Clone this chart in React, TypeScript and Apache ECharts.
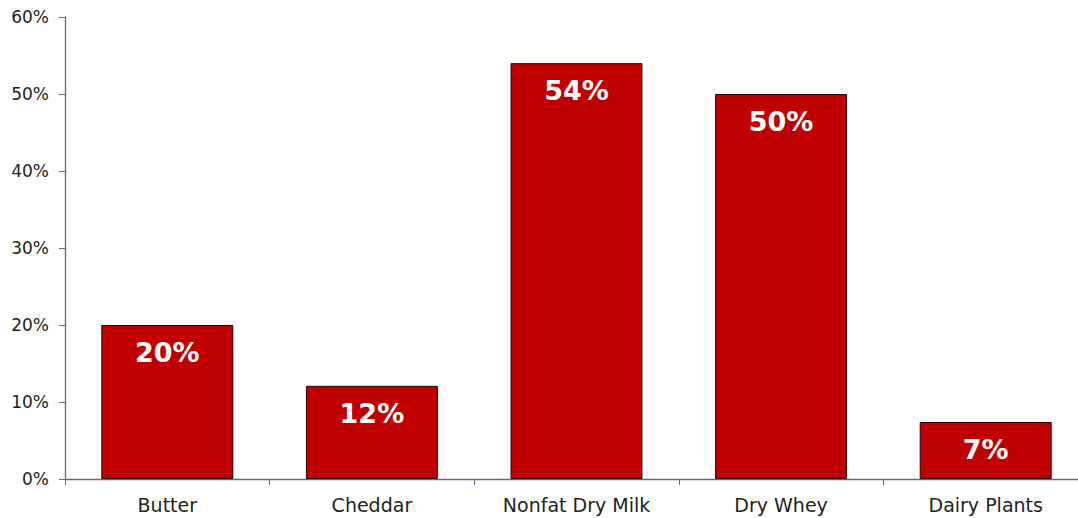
import React, { useEffect, useRef } from "react";
import * as echarts from "echarts";

const categories = ["Butter", "Cheddar", "Nonfat Dry Milk", "Dry Whey", "Dairy Plants"];
const shares = [20, 12.1, 54, 50, 7.4];
const yTicks = [0, 10, 20, 30, 40, 50, 60];

export default function App() {
  const ref = useRef<HTMLDivElement>(null);
  useEffect(() => {
    document.body.style.margin = "0";
    document.body.style.overflow = "hidden";
    const chart = echarts.init(ref.current!, null, { renderer: "svg" });
    chart.setOption({
      animation: false,
      grid: { left: 65, right: 2, top: 17, bottom: 39 },
      xAxis: {
        type: "category",
        data: categories,
        axisLine: { lineStyle: { color: "#5b6b85", width: 1.3 } },
        axisTick: { show: true, alignWithLabel: false, length: 6, lineStyle: { color: "#5b6b85" } },
        axisLabel: { color: "#222", fontSize: 19, fontFamily: "DejaVu Sans, sans-serif", margin: 16 },
      },
      yAxis: {
        type: "value",
        min: yTicks[0],
        max: yTicks[yTicks.length - 1],
        interval: 10,
        axisLine: { show: true, lineStyle: { color: "#5b6b85", width: 1.3 } },
        axisTick: { show: true, length: 6, lineStyle: { color: "#5b6b85" } },
        splitLine: { show: false },
        axisLabel: { color: "#222", fontSize: 17, fontFamily: "DejaVu Sans, sans-serif", margin: 16, formatter: "{value}%" },
      },
      series: [
        {
          type: "bar",
          data: shares,
          barWidth: "64.5%",
          itemStyle: { color: "#c00000", borderColor: "#2a0000", borderWidth: 1 },
          label: {
            show: true,
            position: "insideTop",
            distance: 14,
            color: "#fff",
            fontSize: 27,
            fontWeight: "bold",
            fontFamily: "DejaVu Sans, sans-serif",
            formatter: (p: any) => Math.round(p.value) + "%",
          },
        },
      ],
    });
    return () => chart.dispose();
  }, []);
  return <div ref={ref} style={{ width: 1090, height: 518, position: "absolute", left: 0, top: 0 }} />;
}
